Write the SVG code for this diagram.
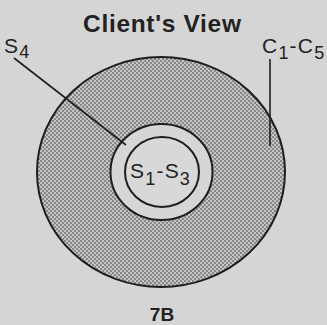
<svg xmlns="http://www.w3.org/2000/svg" width="327" height="325" viewBox="0 0 327 325">
<defs>
<pattern id="stip" width="4" height="4" patternUnits="userSpaceOnUse">
<rect width="4" height="4" fill="#c4c4c4"/>
<rect x="0" y="0" width="2" height="2" fill="#888888"/>
<rect x="2" y="2" width="2" height="2" fill="#888888"/>
</pattern>
</defs>
<style>
text{font-family:"Liberation Sans",Arial,sans-serif;fill:#222}
.ring{stroke:#1e1e1e;stroke-width:2}
.lead{stroke:#1e1e1e;stroke-width:1.6;fill:none}
.lbl{font-size:21px;letter-spacing:1.2px}
.sub{font-size:18px}
</style>
<rect width="327" height="325" fill="#d5d5d5"/>
<g id="title"><text x="162" y="32" font-size="24.5" font-weight="bold" text-anchor="middle" textLength="158">Client's View</text></g>
<g id="clients">
<ellipse class="ring" cx="161" cy="172" rx="124" ry="115" fill="url(#stip)"/>
<text class="lbl" x="262" y="53">C<tspan class="sub" dy="6">1</tspan><tspan dy="-6">-C</tspan><tspan class="sub" dy="6">5</tspan></text>
</g>
<g id="s4">
<ellipse class="ring" cx="161.5" cy="172" rx="51" ry="48" fill="#d6d6d6"/>
<text class="lbl" x="4" y="53" letter-spacing="3">S<tspan class="sub" dy="5">4</tspan></text>
</g>
<g id="s1s3">
<ellipse class="ring" cx="162" cy="172" rx="37" ry="35" fill="#d8d8d8"/>
<text class="lbl" x="130" y="178">S<tspan class="sub" dy="7">1</tspan><tspan dy="-7">-S</tspan><tspan class="sub" dy="7">3</tspan></text>
</g>
<g id="connectors">
<line class="lead" x1="14" y1="58" x2="126" y2="145"/>
<line class="lead" x1="270" y1="59" x2="270" y2="146"/>
</g>
<g id="caption"><text x="162" y="321" font-size="19" font-weight="bold" text-anchor="middle">7B</text></g>
</svg>
